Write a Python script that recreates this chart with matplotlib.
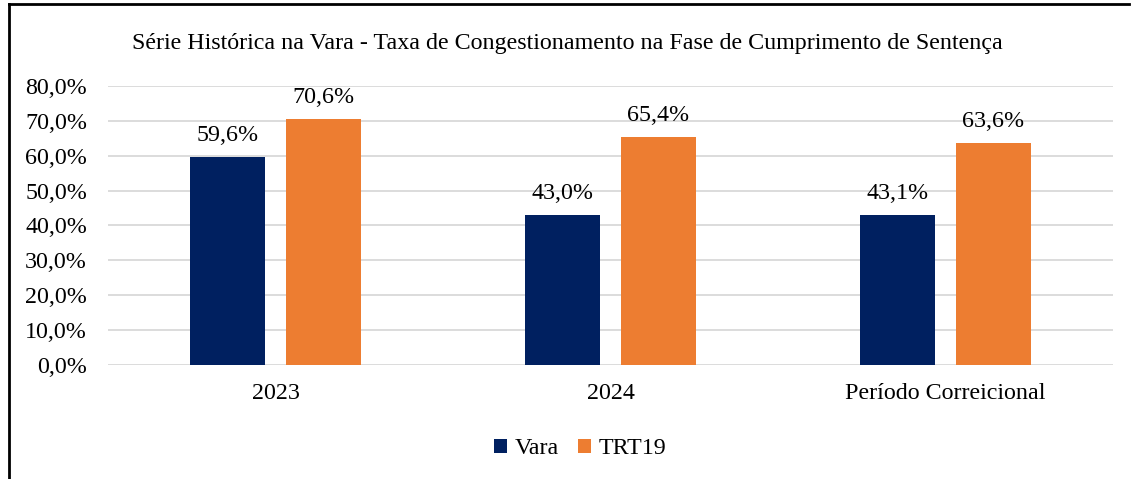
import matplotlib
matplotlib.use("Agg")
import matplotlib.pyplot as plt
from matplotlib.lines import Line2D
from matplotlib.ticker import FuncFormatter, MultipleLocator
import numpy as np

categories = ["2023", "2024", "Período Correicional"]
vara = [59.6, 43.0, 43.1]
trt19 = [70.6, 65.4, 63.6]
series_names = ["Vara", "TRT19"]
title = "Série Histórica na Vara - Taxa de Congestionamento na Fase de Cumprimento de Sentença"

plt.rcParams['font.family'] = ['Liberation Serif', 'DejaVu Serif']
FS = 17.3

fig = plt.figure(figsize=(11.34, 4.79), dpi=100)
ax = fig.add_axes([0.0952, 0.238, 0.8863, 0.5825])

x = np.arange(len(categories))
w = 0.224
off = 0.143
c1, c2 = "#002060", "#ED7D31"
b1 = ax.bar(x - off, vara, w, color=c1, label=series_names[0], zorder=3)
b2 = ax.bar(x + off, trt19, w, color=c2, label=series_names[1], zorder=3)

fmt = lambda v: f"{v:.1f}%".replace(".", ",")
for bars, vals in ((b1, vara), (b2, trt19)):
    for r, v in zip(bars, vals):
        ax.annotate(fmt(v), (r.get_x() + r.get_width() / 2, v), xytext=(0, 11.5),
                    textcoords="offset points", ha="center", va="baseline", fontsize=FS)

ax.set_xlim(-0.5, 2.5)
ax.set_ylim(0, 80)
ax.yaxis.set_major_locator(MultipleLocator(10))
ax.yaxis.set_major_formatter(FuncFormatter(lambda v, p: fmt(v)))
ax.grid(axis="y", color="#D9D9D9", linewidth=1.3, zorder=0)
for s in ax.spines.values():
    s.set_visible(False)
ax.tick_params(axis="both", length=0, labelsize=FS)
ax.tick_params(axis="y", pad=15)
ax.tick_params(axis="x", pad=13)
ax.set_xticks(x)
ax.set_xticklabels(categories)

fig.text(0.5, 1 - 44 / 479, title, ha="center", va="center", fontsize=FS)

leg = fig.legend(loc="center", bbox_to_anchor=(580 / 1134, 1 - 449 / 479), ncol=2, frameon=False,
                 fontsize=FS, handlelength=0.55, handleheight=0.55, handletextpad=0.3, columnspacing=0.8)

fig.add_artist(Line2D([9 / 1134, 9 / 1134], [0, 1 - 4 / 479], transform=fig.transFigure, color="black", lw=2))
fig.add_artist(Line2D([9 / 1134, 1129 / 1134], [1 - 4 / 479, 1 - 4 / 479], transform=fig.transFigure, color="black", lw=2))

fig.savefig("out.png", dpi=100)
